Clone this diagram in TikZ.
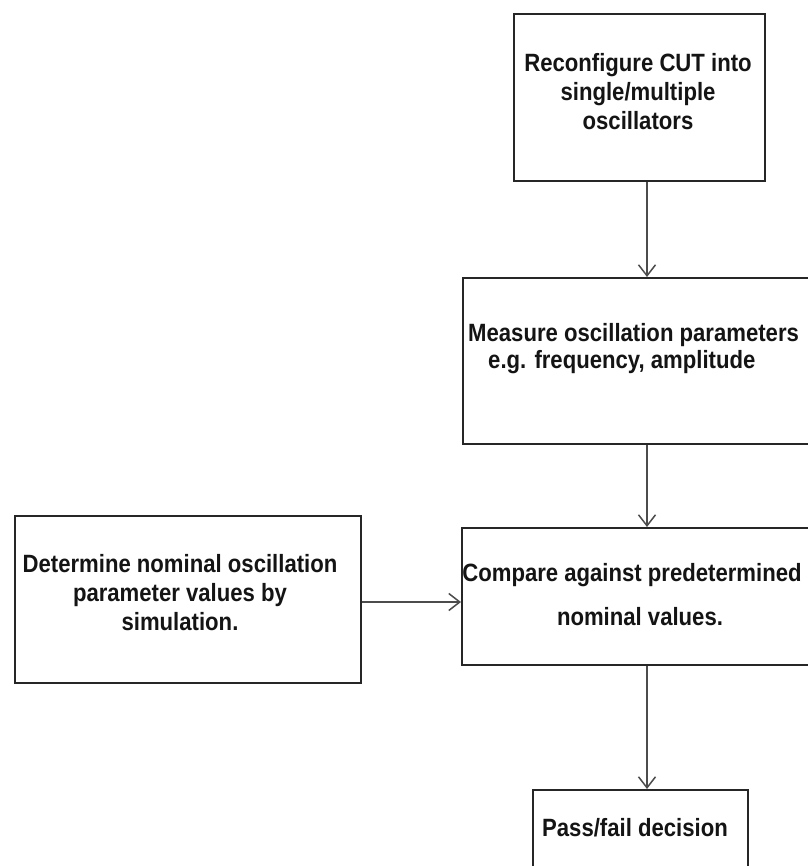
\documentclass[tikz,border=0pt]{standalone}
\usepackage{fontspec}
\setmainfont{Liberation Sans}[FakeStretch=0.885]
\usetikzlibrary{arrows.meta}
\begin{document}
\begin{tikzpicture}[x=1pt,y=-1pt,
  boxstyle/.style={draw=black!85,line width=1.8pt,fill=white,rectangle,inner sep=0pt,anchor=north west},
  txt/.style={font=\fontsize{25}{29}\selectfont\bfseries,text=black!92,inner sep=0pt,align=center},
  conn/.style={draw=black!70,line width=1.6pt,-{Straight Barb[length=11pt,width=17pt,line width=1.5pt]}}]
\useasboundingbox[fill=white] (0,0) rectangle (807,866);
% boxes
\node[boxstyle,minimum width=251pt,minimum height=167pt] (b1) at (513,13) {};
\node[boxstyle,minimum width=360pt,minimum height=166pt] (b2) at (462,277) {};
\node[boxstyle,minimum width=346pt,minimum height=167pt] (b3) at (14,515) {};
\node[boxstyle,minimum width=360pt,minimum height=137pt] (b4) at (461,527) {};
\node[boxstyle,minimum width=215pt,minimum height=100pt] (b5) at (532,789) {};
% texts
\node[txt] (t1) at (638,92) {Reconfigure CUT into\\single/multiple\\oscillators};
\node[txt,align=left,anchor=west] (t2a) at (468,335) {Measure oscillation parameters};
\node[txt,align=left,anchor=west] (t2b) at (488,362) {e.g. frequency, amplitude};
\node[txt] (t3) at (180,593) {Determine nominal oscillation\\parameter values by\\simulation.};
\node[txt] (t4a) at (632,575) {Compare against predetermined};
\node[txt] (t4b) at (640,617) {nominal values.};
\node[txt] (t5) at (635,828) {Pass/fail decision};
% connector guides
\coordinate (ax) at (647,0);
\coordinate (ay) at (0,602);
\draw[conn] (b1.south -| ax) -- (b2.north -| ax);
\draw[conn] (b2.south -| ax) -- (b4.north -| ax);
\draw[conn] (b3.east |- ay) -- (b4.west |- ay);
\draw[conn] (b4.south -| ax) -- (b5.north -| ax);
\end{tikzpicture}
\end{document}
